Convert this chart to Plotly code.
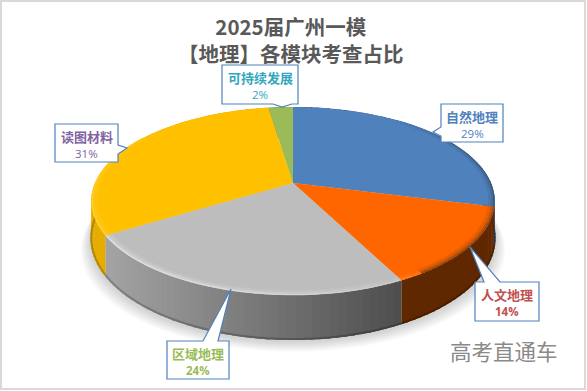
import math
import plotly.graph_objects as go

categories = ["自然地理", "人文地理", "区域地理", "读图材料", "可持续发展"]
shares = [29, 13.5, 23.75, 31.4, 2.35]
percent_labels = ["29%", "14%", "24%", "31%", "2%"]
title_lines = ["2025届广州一模", "【地理】各模块考查占比"]
watermark = "高考直通车"

# ---- styling -------------------------------------------------------------
W, H = 587, 391
FONT = "Noto Sans CJK SC, Noto Sans, sans-serif"
face = ["#4f81bd", "#ff6600", "#bdbdbd", "#ffc000", "#9bbb59"]
wall_l = ["#3a5f8c", "#7a3500", "#a4a4a4", "#e6ad00", "#6f8a3f"]
wall_r = ["#24456e", "#5f2800", "#4c4c4c", "#d09c00", "#6f8a3f"]
text_col = ["#4f81bd", "#c0504d", "#9bbb59", "#8064a2", "#31a6bd"]
# callout: box x0, x1, y0, y1, pointer base a, base b, tip
callouts = [
    dict(b=(441, 503, 104, 142), p=[(441, 136), (433, 132), (441, 127)]),
    dict(b=(475, 539, 282, 321), p=[(500, 282), (470, 247), (484, 282)]),
    dict(b=(167, 229, 341, 379), p=[(218, 341), (231, 289), (203, 341)]),
    dict(b=(55, 118, 124, 162), p=[(118, 145), (127, 148), (118, 154)]),
    dict(b=(222, 298, 65, 104), p=[(292, 104), (282, 107), (273, 104)]),
]
CX, CY, R, A, K, DEPTH = 293, 183, 198, 90.6, 0.1916, 36.4


def top_xy(deg, r=1.0):
    """Project a disc point (clockwise degrees from 12 o'clock) in perspective."""
    t = math.radians(deg)
    u, v = r * math.sin(t), r * math.cos(t)
    w = 1 + K * v
    return CX + R * u / w, CY - A * v / w


def depth(deg):
    return DEPTH / (1 + K * math.cos(math.radians(deg)))


def hex_rgb(c):
    if c.startswith("rgb"):
        return tuple(int(v) for v in c[4:-1].split(","))
    return tuple(int(c[i:i + 2], 16) for i in (1, 3, 5))


def mix(c1, c2, f):
    a, b = hex_rgb(c1), hex_rgb(c2)
    return "rgb(%d,%d,%d)" % tuple(round(a[i] + (b[i] - a[i]) * f) for i in range(3))


def poly(xs, ys, fill):
    fig.add_trace(go.Scatter(
        x=xs, y=ys, mode="lines", fill="toself", fillcolor=fill,
        line=dict(color="rgba(0,0,0,0)", width=0),
        hoverinfo="skip", showlegend=False))


fig = go.Figure()

total = sum(shares)
spans = []
acc = 0
for s in shares:
    spans.append((acc * 360 / total, (acc + s) * 360 / total))
    acc += s

# soft shadow under the disc
for i in range(9, 0, -1):
    e = i * 1.5
    xs, ys = [], []
    for d in range(0, 361, 4):
        x, y = top_xy(d)
        xs.append(CX + (x - CX) * (1 + e / 260))
        ys.append(y + depth(d) + 1 + e * 0.8)
    poly(xs, ys, "rgba(90,90,90,0.03)")

# side wall, drawn as thin shaded strips so the shading follows the rim
for i, (a0, a1) in enumerate(spans):
    if a1 < 60:
        continue
    steps = max(2, int((a1 - a0) / 2))
    for j in range(steps):
        d0 = a0 + (a1 - a0) * j / steps
        d1 = min(a0 + (a1 - a0) * (j + 1.3) / steps, a1)
        x0, y0 = top_xy(d0)
        x1, y1 = top_xy(d1)
        f = min(1, max(0, ((x0 + x1) / 2 - 105) / 300))
        col = mix(wall_l[i], wall_r[i], f)
        poly([x0, x1, x1, x0, x0],
             [y0, y1, y1 + depth(d1), y0 + depth(d0), y0], col)
        fig.add_trace(go.Scatter(
            x=[x0, x1], y=[y0 + depth(d0) - 1, y1 + depth(d1) - 1], mode="lines",
            line=dict(color=mix(col, "#000000", 0.22), width=2),
            hoverinfo="skip", showlegend=False))

# top face
for i, (a0, a1) in enumerate(spans):
    steps = max(4, int(a1 - a0))
    pts = [top_xy(a0 + (a1 - a0) * j / steps) for j in range(steps + 1)]
    xs = [CX] + [p[0] for p in pts] + [CX]
    ys = [CY] + [p[1] for p in pts] + [CY]
    poly(xs, ys, face[i])

# bevel along the rim: lit toward the lower left, dark toward the lower right
for r, wd, strength in [(0.975, 2.5, 0.15), (0.987, 2, 0.35), (0.996, 1.5, 0.7)]:
    for i, (a0, a1) in enumerate(spans):
        steps = max(2, int((a1 - a0) / 3))
        for j in range(steps):
            d0 = a0 + (a1 - a0) * j / steps
            d1 = a0 + (a1 - a0) * (j + 1) / steps
            m = math.radians((d0 + d1) / 2)
            lit = math.cos(m - math.radians(225))
            dark = math.cos(m - math.radians(120))
            if lit > 0.2:
                col = mix(face[i], "#ffffff", strength * 0.7 * lit)
                if i == 3:
                    col = mix(face[i], "#ffd84a", strength * lit)
            elif dark > 0.1:
                col = mix(face[i], "#202020", strength * 0.7 * dark)
            else:
                continue
            p0, p1 = top_xy(d0, r), top_xy(d1, r)
            fig.add_trace(go.Scatter(
                x=[p0[0], p1[0]], y=[p0[1], p1[1]], mode="lines",
                line=dict(color=col, width=wd), hoverinfo="skip", showlegend=False))

# callouts
shapes = [dict(type="rect", xref="x", yref="y", x0=1, x1=W - 2, y0=1, y1=H - 2,
               line=dict(color="#d9d9d9", width=2), fillcolor="rgba(0,0,0,0)")]
annotations = []
for i, c in enumerate(callouts):
    x0, x1, y0, y1 = c["b"]
    p = c["p"]
    if abs(p[0][0] - x0) < 1e-6 and abs(p[2][0] - x0) < 1e-6:      # left side
        order = [(x0, y0), (x1, y0), (x1, y1), (x0, y1), p[0], p[1], p[2]]
    elif abs(p[0][0] - x1) < 1e-6 and abs(p[2][0] - x1) < 1e-6:    # right side
        order = [(x0, y0), (x1, y0), p[0], p[1], p[2], (x1, y1), (x0, y1)]
    elif abs(p[0][1] - y0) < 1e-6:                                  # top side
        order = [(x0, y0), p[2], p[1], p[0], (x1, y0), (x1, y1), (x0, y1)]
    else:                                                           # bottom side
        order = [(x0, y0), (x1, y0), (x1, y1), p[0], p[1], p[2], (x0, y1)]
    path = "M" + " L".join(f"{a},{b}" for a, b in order) + " Z"
    shapes.append(dict(type="path", xref="x", yref="y", path=path,
                       fillcolor="#ffffff", line=dict(color="#4f81bd", width=1.2)))
    cx = (x0 + x1) / 2
    annotations.append(dict(x=cx, y=y0 + 12, text=f"<b>{categories[i]}</b>", showarrow=False,
                            xref="x", yref="y", font=dict(family=FONT, size=13, color=text_col[i])))
    annotations.append(dict(x=cx, y=y0 + 29, text=f"<b>{percent_labels[i]}</b>" if i in (1, 2) else percent_labels[i],
                            showarrow=False, xref="x", yref="y",
                            font=dict(family="Open Sans, " + FONT, size=11.5, color=text_col[i])))

# title and watermark
annotations.append(dict(x=291, y=39.5, text="<b>" + "<br>".join(title_lines) + "</b>", showarrow=False,
                        xref="x", yref="y", align="center",
                        font=dict(family=FONT, size=20.5, color="#595959")))
annotations.append(dict(x=504, y=350, text=watermark, showarrow=False, xref="x", yref="y",
                        font=dict(family=FONT, size=21.5, color="#8a8a8a")))

fig.update_layout(
    width=W, height=H, margin=dict(l=0, r=0, t=0, b=0),
    paper_bgcolor="#ffffff", plot_bgcolor="#ffffff", showlegend=False,
    xaxis=dict(range=[0, W], visible=False, fixedrange=True),
    yaxis=dict(range=[H, 0], visible=False, fixedrange=True),
    shapes=shapes, annotations=annotations, hovermode=False,
)
fig.write_html("out.html", config=dict(displayModeBar=False),
               post_script="document.body.style.margin='0';document.documentElement.style.overflow='hidden';")
